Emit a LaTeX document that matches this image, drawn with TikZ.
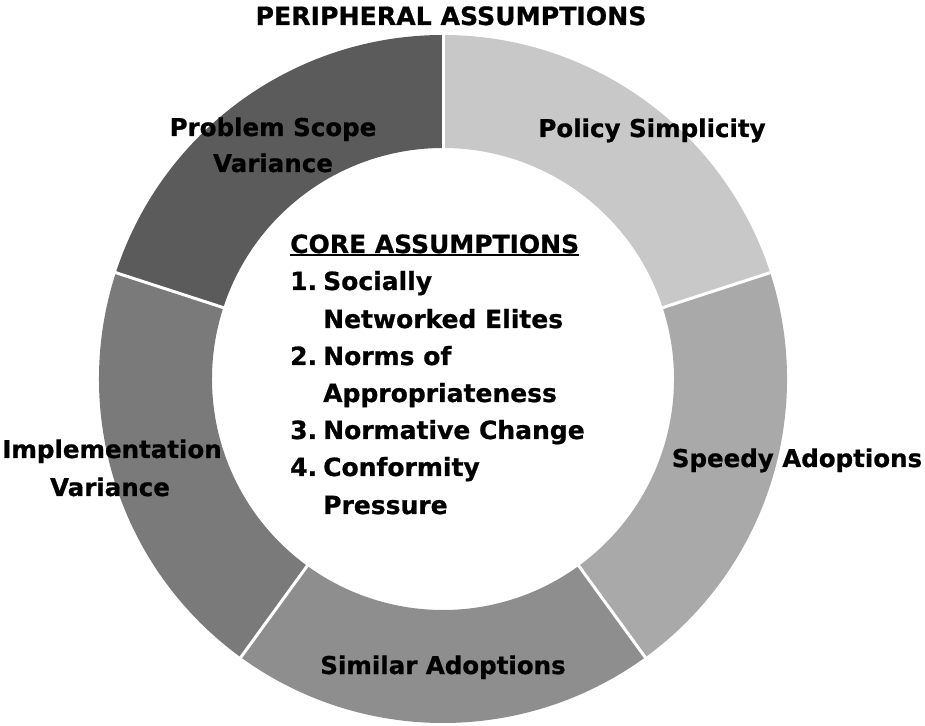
\documentclass[tikz,border=0pt]{standalone}
\usepackage{fontspec}
\setmainfont{DejaVu Sans}[BoldFeatures={FakeBold=0.8}]
\usetikzlibrary{calc}
\definecolor{segA}{HTML}{5B5B5B}
\definecolor{segB}{HTML}{C8C8C8}
\definecolor{segC}{HTML}{A9A9A9}
\definecolor{segD}{HTML}{8E8E8E}
\definecolor{segE}{HTML}{7A7A7A}
\tikzset{
  lab/.style={font=\fontsize{24.5}{30}\selectfont\bfseries, inner sep=0pt, anchor=base, align=center},
  corelab/.style={font=\fontsize{25}{30}\selectfont\bfseries, inner sep=0pt, anchor=base west},
  sep/.style={draw=white, line width=3pt}
}
\newcommand{\ringseg}[3]{%
  \fill[#3] ($(c)+(#1:344pt)$) arc[start angle=#1, end angle=#2, radius=344pt]
    -- ($(c)+(#2:231pt)$) arc[start angle=#2, end angle=#1, radius=231pt] -- cycle;}
\newcommand{\thickul}[1]{\setbox0=\hbox{#1}\rlap{\rule[-3pt]{\wd0}{2pt}}\box0}
\begin{document}
\begin{tikzpicture}[x=1pt,y=1pt]
\fill[white] (0,0) rectangle (925,725);
\useasboundingbox (0,0) rectangle (925,725);
\coordinate (c) at (443,346);
\ringseg{90}{162}{segA}
\ringseg{18}{90}{segB}
\ringseg{-54}{18}{segC}
\ringseg{-126}{-54}{segD}
\ringseg{162}{234}{segE}
\foreach \a in {90,18,-54,-126,162}{
  \draw[sep] ($(c)+(\a:228pt)$) -- ($(c)+(\a:347pt)$);
}
% title
\node[lab, font=\fontsize{25.2}{30}\selectfont\bfseries] (title) at (451,700) {PERIPHERAL ASSUMPTIONS};
% segment labels
\node[lab] (ps1) at (273,589) {Problem Scope};
\node[lab] (ps2) at (273,553) {Variance};
\node[lab] (pol) at (652,588) {Policy Simplicity};
\node[lab] (spd) at (797,258) {Speedy Adoptions};
\node[lab] (sim) at (443,51) {Similar Adoptions};
\node[lab] (imp1) at (112,267) {Implementation};
\node[lab] (imp2) at (110,229) {Variance};
% core list
\node[corelab] (core) at (290,472) {\thickul{CORE ASSUMPTIONS}};
\node[corelab] (n1) at (290,435) {1.};
\node[corelab] (t1) at (323,435) {Socially};
\node[corelab] (t1b) at (323,397) {Networked Elites};
\node[corelab] (n2) at (290,360) {2.};
\node[corelab] (t2) at (323,360) {Norms of};
\node[corelab] (t2b) at (323,323) {Appropriateness};
\node[corelab] (n3) at (290,286) {3.};
\node[corelab] (t3) at (323,286) {Normative Change};
\node[corelab] (n4) at (290,249) {4.};
\node[corelab] (t4) at (323,249) {Conformity};
\node[corelab] (t4b) at (323,211) {Pressure};
\end{tikzpicture}
\end{document}
